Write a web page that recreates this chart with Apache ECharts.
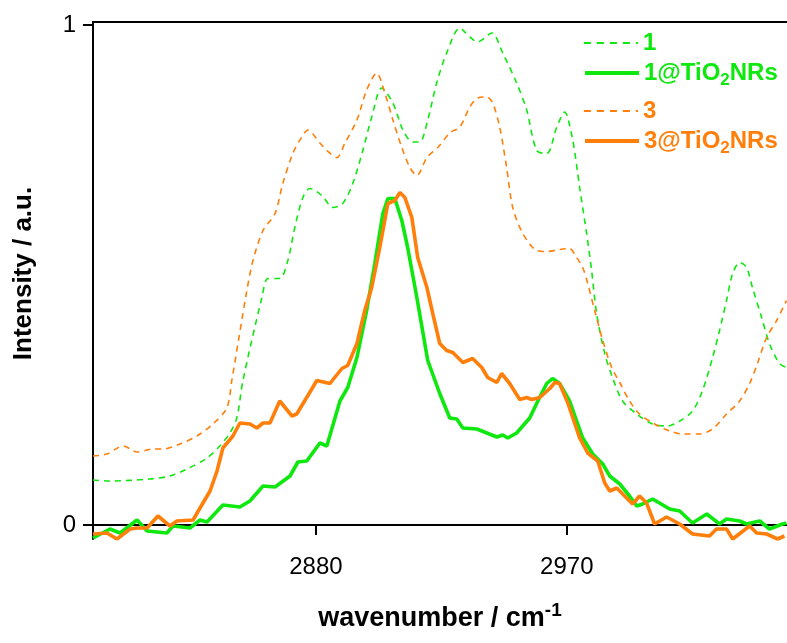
<!DOCTYPE html>
<html>
<head>
<meta charset="utf-8">
<script src="https://cdn.jsdelivr.net/npm/echarts@6/dist/echarts.min.js"></script>
<style>
html,body{margin:0;padding:0;background:#fff;}
#main{width:787px;height:643px;}
</style>
</head>
<body>
<div id="main"></div>
<script>
// wavenumber (cm-1) and intensity
var wn1 = [2800,2806,2820.4,2827.6,2833.7,2840.9,2845.5,2849.1,2851.6,2853.8,2860.6,2862.8,2867,2869.9,2872.4,2875.3,2877.8,2882.1,2886.1,2889.6,2893.2,2896.8,2900,2903.6,2907.6,2911.2,2914.7,2917.2,2920.1,2923.3,2926.9,2931.6,2935.2,2938,2943.1,2947,2952,2955.6,2959.2,2962.8,2966.4,2969.2,2972.1,2974.6,2977.1,2978.9,2980.7,2983.6,2986.4,2990,2995.1,3000.8,3006.2,3010.5,3015.1,3018.7,3022.3,3024.8,3027.3,3029.5,3032,3034.5,3036.6,3039.9,3042.7,3046.3,3048.8];
var int1 = [0.090,0.088,0.092,0.098,0.112,0.134,0.158,0.184,0.214,0.289,0.455,0.493,0.493,0.529,0.595,0.655,0.673,0.659,0.635,0.643,0.683,0.749,0.816,0.874,0.844,0.790,0.766,0.766,0.810,0.884,0.944,0.994,0.976,0.966,0.984,0.944,0.884,0.830,0.749,0.743,0.796,0.826,0.770,0.675,0.583,0.509,0.423,0.343,0.295,0.248,0.222,0.202,0.198,0.208,0.228,0.269,0.335,0.389,0.449,0.503,0.525,0.515,0.475,0.415,0.363,0.323,0.315];

var wn3 = [2800,2805,2810.8,2815.8,2821.5,2825.1,2831.2,2837.3,2843,2848,2849.8,2855.2,2857.4,2861,2865.3,2868.1,2871.7,2874.9,2877.1,2881.4,2883.9,2887.5,2890.4,2894.7,2898.2,2901.8,2904.7,2907.6,2910.8,2913.7,2916.2,2919.8,2923.7,2928,2931.6,2935.2,2938,2941.3,2943.4,2945.9,2948.4,2950.6,2954.2,2959.2,2962.8,2967.4,2971,2973.5,2975.7,2977.5,2980,2982.9,2986.1,2989,2992.5,2996.1,3001.5,3006.9,3011.5,3017.6,3022.3,3027.3,3032,3035.6,3038.4,3041.7,3045.3,3048.8];
var int3 = [0.138,0.142,0.158,0.146,0.152,0.152,0.162,0.178,0.202,0.234,0.289,0.469,0.529,0.589,0.623,0.683,0.743,0.776,0.790,0.764,0.749,0.735,0.764,0.810,0.870,0.904,0.864,0.810,0.755,0.715,0.699,0.735,0.755,0.784,0.796,0.836,0.854,0.856,0.844,0.796,0.715,0.635,0.583,0.549,0.547,0.551,0.553,0.535,0.515,0.483,0.429,0.369,0.315,0.285,0.248,0.222,0.202,0.188,0.182,0.182,0.192,0.222,0.248,0.283,0.323,0.375,0.409,0.449];

var wn1Ti = [2800,2806.1,2809.7,2815.8,2819.4,2826.5,2828.7,2834.8,2838.4,2840.9,2846.6,2852.7,2856.3,2861,2865.3,2870.7,2873.5,2876.7,2881.4,2883.9,2888.6,2891.4,2894.7,2898.2,2901.1,2904,2905.8,2908.3,2910.8,2912.9,2916.2,2920.1,2924.4,2928,2930.5,2932.7,2937.7,2941.3,2944.9,2947,2948.8,2952,2956.7,2959.6,2962.8,2964.9,2967.4,2971,2975.7,2979.3,2982.9,2985.4,2989,2992.5,2995.1,2997.2,3000.8,3006.9,3010.5,3015.1,3020.2,3024.8,3027.3,3032,3034.5,3039.2,3042.7,3047.4,3048.8];
var int1Ti = [-0.026,-0.008,-0.016,0.010,-0.012,-0.016,-0.002,-0.006,0.010,0.006,0.040,0.036,0.048,0.078,0.076,0.098,0.126,0.128,0.164,0.158,0.248,0.275,0.335,0.429,0.523,0.623,0.653,0.653,0.609,0.555,0.455,0.329,0.263,0.214,0.212,0.194,0.192,0.184,0.176,0.180,0.174,0.184,0.214,0.248,0.283,0.293,0.283,0.248,0.174,0.142,0.122,0.098,0.082,0.058,0.038,0.042,0.052,0.032,0.028,0.004,0.022,0.002,0.012,0.008,0.002,0.008,-0.008,0.002,0.004];

var wn3Ti = [2800,2805,2808.6,2813.3,2815.8,2819.4,2823.3,2827.6,2830.1,2835.9,2838.4,2842,2844.5,2846.6,2850.2,2852.7,2856.3,2858.8,2861,2863.5,2867,2871.4,2873.1,2877.1,2880.3,2885,2889.3,2891.4,2894.7,2897.5,2900,2902.9,2905.8,2908.3,2910.1,2911.9,2914.4,2916.5,2919.8,2921.9,2924.4,2926.9,2929.1,2932.7,2936.2,2939.5,2941.6,2944.9,2946.6,2949.5,2953.1,2955.6,2957.4,2960.3,2963.9,2965.7,2967.4,2970.3,2974.6,2977.5,2981.1,2983.6,2985.4,2987.9,2993.6,2996.1,2998.6,3001.5,3005.8,3010.5,3015.1,3021.2,3023.7,3027.3,3029.5,3035.6,3038.1,3041.7,3045.6,3048.1];
var int3Ti = [-0.018,-0.016,-0.028,-0.008,-0.006,-0.006,0.018,-0.002,0.008,0.010,0.034,0.068,0.108,0.154,0.178,0.204,0.202,0.194,0.204,0.204,0.248,0.218,0.222,0.259,0.289,0.283,0.313,0.319,0.363,0.429,0.475,0.555,0.643,0.649,0.665,0.655,0.615,0.535,0.475,0.423,0.363,0.349,0.345,0.325,0.333,0.315,0.295,0.285,0.303,0.283,0.251,0.255,0.251,0.255,0.273,0.285,0.283,0.245,0.174,0.144,0.128,0.084,0.068,0.074,0.042,0.058,0.044,0.002,0.016,0.002,-0.018,-0.022,-0.008,-0.008,-0.028,-0.002,-0.016,-0.018,-0.028,-0.022];

var xTicks = [2880, 2970];
var yTicks = [0, 1];

var green = '#0ee80e';
var orange = '#ff7f0a';
var font = 'Liberation Sans, Arial, Helvetica, sans-serif';

function pairs(xs, ys) {
    var out = [];
    for (var i = 0; i < xs.length; i++) out.push([xs[i], ys[i]]);
    return out;
}

// one legend per entry so each row sits where it does in the figure
function legendBox(name, color, top, dashed) {
    return {
        data: [name],
        left: 583,
        top: top,
        itemWidth: 54,
        itemHeight: 14,
        padding: 0,
        selectedMode: false,
        itemStyle: { opacity: 0 },
        lineStyle: dashed ? { color: color, width: 1.8, type: [7, 6] } : { color: color, width: 4, type: 'solid' },
        formatter: function (n) { return n.replace('O2', 'O{s|2}'); },
        textStyle: {
            color: color, fontFamily: font, fontSize: 24, fontWeight: 'bold',
            rich: { s: { color: color, fontFamily: font, fontSize: 17, fontWeight: 'bold', padding: [15, 0, 0, 0] } }
        }
    };
}

var myChart = echarts.init(document.getElementById('main'));

var option = {
    animation: false,
    backgroundColor: '#fff',
    grid: { left: 93, right: 0, top: 22, bottom: 104, outerBoundsMode: 'none' },
    legend: [
        legendBox('1', green, 31, true),
        legendBox('1@TiO2NRs', green, 61, false),
        legendBox('3', orange, 99, true),
        legendBox('3@TiO2NRs', orange, 129, false)
    ],
    xAxis: [{
        type: 'value',
        min: 2800, max: 3049,
        position: 'bottom',
        name: 'wavenumber / cm{sup|-1}',
        nameLocation: 'middle',
        nameGap: 62,
        nameTextStyle: {
            color: '#000', fontFamily: font, fontSize: 27, fontWeight: 'bold',
            rich: { sup: { color: '#000', fontFamily: font, fontSize: 19, fontWeight: 'bold', padding: [0, 0, 16, 0] } }
        },
        axisLine: { lineStyle: { color: '#000', width: 2 } },
        axisTick: { inside: false, length: 10, lineStyle: { color: '#000', width: 2 }, customValues: xTicks },
        axisLabel: { color: '#000', fontFamily: font, fontSize: 24, margin: 16, customValues: xTicks,
            formatter: function (v) { return String(v); } },
        splitLine: { show: false }
    }, {
        type: 'value',
        min: 2800, max: 3049,
        position: 'top',
        axisLine: { show: true, lineStyle: { color: '#000', width: 2 } },
        axisTick: { show: false },
        axisLabel: { show: false },
        splitLine: { show: false }
    }],
    yAxis: {
        type: 'value',
        min: -0.028, max: 1.006,
        name: 'Intensity / a.u.',
        nameLocation: 'middle',
        nameRotate: 90,
        nameGap: 56,
        nameTextStyle: { color: '#000', fontFamily: font, fontSize: 26, fontWeight: 'bold', padding: [0, 0, 0, 14] },
        axisLine: { show: true, lineStyle: { color: '#000', width: 2 } },
        axisTick: { show: true, inside: false, length: 10, lineStyle: { color: '#000', width: 2 }, customValues: yTicks },
        axisLabel: { color: '#000', fontFamily: font, fontSize: 24, margin: 17, customValues: yTicks,
            formatter: function (v) { return String(v); } },
        splitLine: { show: false }
    },
    series: [
        {
            name: '1', type: 'line', smooth: 0.3, symbol: 'none', color: green,
            lineStyle: { color: green, width: 1.6, type: [6, 5] },
            data: pairs(wn1, int1)
        },
        {
            name: '3', type: 'line', smooth: 0.3, symbol: 'none', color: orange,
            lineStyle: { color: orange, width: 1.6, type: [6, 5] },
            data: pairs(wn3, int3)
        },
        {
            name: '1@TiO2NRs', type: 'line', symbol: 'none', color: green,
            lineStyle: { color: green, width: 3.6 },
            data: pairs(wn1Ti, int1Ti)
        },
        {
            name: '3@TiO2NRs', type: 'line', symbol: 'none', color: orange,
            lineStyle: { color: orange, width: 3.6 },
            data: pairs(wn3Ti, int3Ti)
        }
    ]
};

myChart.setOption(option);
</script>
</body>
</html>
